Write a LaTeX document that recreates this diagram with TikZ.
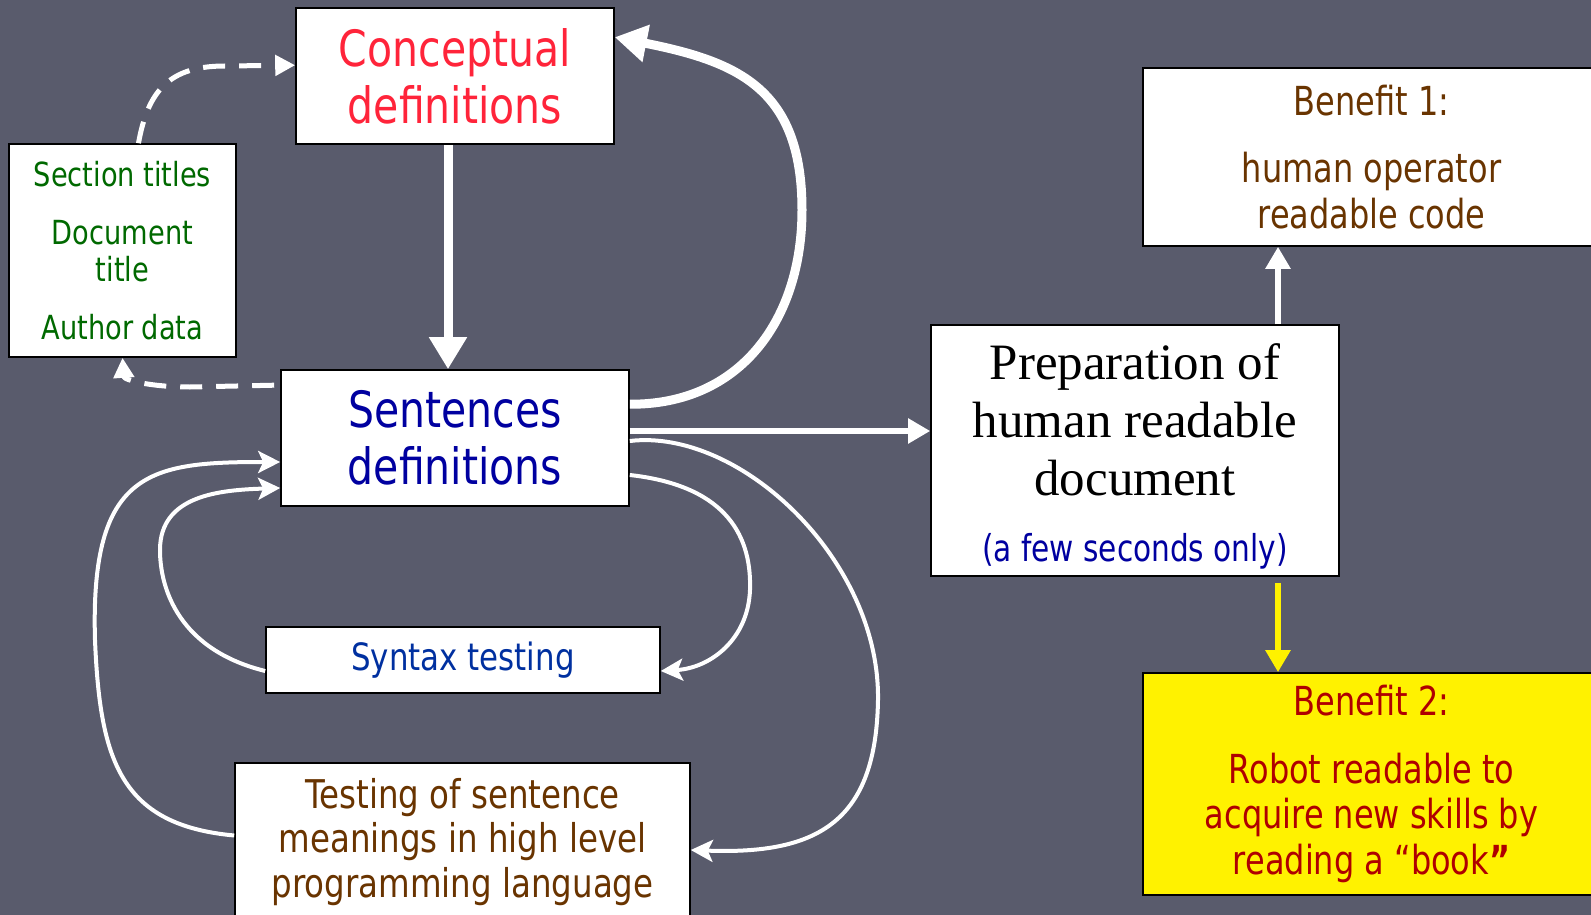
\documentclass[tikz,border=0pt]{standalone}
\usepackage{fontspec}
\setmainfont{DejaVu Sans}
\newfontfamily\tahfont[FakeStretch=0.82]{DejaVu Sans}
\newfontfamily\verfont[FakeStretch=0.8]{DejaVu Sans}
\newfontfamily\serfont{Liberation Serif}
\usetikzlibrary{arrows.meta}
\definecolor{slide}{RGB}{89,91,108}
\definecolor{conred}{RGB}{255,36,58}
\definecolor{sennavy}{RGB}{0,0,160}
\definecolor{titgreen}{RGB}{0,105,0}
\definecolor{synblue}{RGB}{0,48,160}
\definecolor{tesbrown}{RGB}{105,52,0}
\definecolor{benred}{RGB}{175,0,0}
\tikzset{
  box/.style={draw=black,line width=0.8pt,fill=white,inner sep=0pt,align=center},
  bigarrow/.style={draw=white,line width=4.5pt,-{Triangle[length=16pt,width=18pt]}},
  medarrow/.style={draw=white,line width=2.6pt,-{Triangle[length=11pt,width=12pt]}},
  looparrow/.style={draw=white,line width=2pt,-{Stealth[length=11pt,width=11pt,inset=2.5pt]}},
  dasharrow/.style={draw=white,line width=2.5pt,dash pattern=on 11pt off 7pt,-{Triangle[length=10pt,width=10pt]}}
}
\begin{document}
\begin{tikzpicture}[x=0.5pt,y=-0.5pt]
\useasboundingbox (0,0) rectangle (1591,915);
\fill[slide] (0,0) rectangle (1591,915);
\clip (0,0) rectangle (1591,915);
% boxes
\node[box,minimum width=159pt,minimum height=68pt,text=conred,font={\tahfont\fontsize{25}{28.5}\selectfont}] (concept) at (455,76) {Conceptual\\definitions};
\node[box,minimum width=113.5pt,minimum height=106.5pt,text=titgreen,font={\tahfont\fontsize{16.6}{18.8}\selectfont}] (titles) at (122.5,250.5) {Section titles\\[10pt]Document\\title\\[10pt]Author data};
\node[box,minimum width=174pt,minimum height=68pt,text=sennavy,font={\tahfont\fontsize{25}{28.5}\selectfont}] (sent) at (455,438) {Sentences\\definitions};
\node[box,minimum width=197pt,minimum height=33pt,text=synblue,font={\tahfont\fontsize{18.8}{21}\selectfont}] (syntax) at (463,660) {Syntax testing};
\node[box,minimum width=227.5pt,minimum height=79pt,text=tesbrown,font={\tahfont\fontsize{19.8}{22.3}\selectfont}] (testing) at (462.5,842) {Testing of sentence\\meanings in high level\\programming language};
\node[box,minimum width=204pt,minimum height=125.5pt,font={\serfont\fontsize{25.5}{29}\selectfont}] (prep) at (1135,450.5) {\rule{0pt}{23.5pt}Preparation of\\human readable\\document\\[4pt]{\verfont\fontsize{18.5}{22}\selectfont\color{sennavy}(a few seconds only)}};
\node[box,minimum width=228.5pt,minimum height=89pt,text=tesbrown,font={\verfont\fontsize{20}{22.8}\selectfont}] (ben1) at (1371.5,157) {Benefit 1:\\[11pt]human operator\\readable code};
\node[box,fill=yellow,minimum width=228.5pt,minimum height=111pt,text=benred,font={\verfont\fontsize{20}{22.8}\selectfont}] (ben2) at (1371.5,784) {Benefit 2:\\[11pt]Robot readable to\\acquire new skills by\\reading a “book\textbf{”}};
% connectors
\draw[bigarrow] ([xshift=-3.5pt]concept.south) -- ([xshift=-3.5pt]sent.north);
\draw[bigarrow] ([yshift=-17.5pt]sent.north east) .. controls (740,405) and (802,320) .. (802,210) .. controls (802,90) and (740,62) .. ([yshift=-15pt]concept.north east);
\draw[dasharrow] ([xshift=8pt]titles.north) .. controls (148,90) and (170,66) .. (225,66) -- ([yshift=-29pt]concept.north west);
\draw[dasharrow] ([xshift=-3pt,yshift=-8pt]sent.north west) -- (190,387) .. controls (150,387) and (124,380) .. (titles.south);
\draw[medarrow] ([yshift=3.5pt]sent.east) -- ([yshift=3.5pt]sent.east -| prep.west);
\draw[looparrow] ([yshift=-1.5pt]sent.east) .. controls (740,428) and (880,560) .. (878,700) .. controls (876,820) and (820,855) .. ([yshift=-4pt]testing.east);
\draw[looparrow] ([yshift=-18.5pt]sent.east) .. controls (720,485) and (752,530) .. (750,590) .. controls (748,640) and (710,668) .. ([yshift=-5.5pt]syntax.east);
\draw[looparrow] ([yshift=-5.5pt]syntax.west) .. controls (180,650) and (160,590) .. (160,550) .. controls (160,495) and (220,490) .. ([yshift=-25pt]sent.west);
\draw[looparrow] ([yshift=3.25pt]testing.west) .. controls (120,825) and (100,760) .. (95,640) .. controls (90,470) and (150,462) .. ([yshift=-12pt]sent.west);
\draw[medarrow,line width=3pt] ([xshift=71.5pt]prep.north) -- ([xshift=71.5pt]prep.north |- ben1.south);
\draw[medarrow,draw=yellow,line width=3pt] ([xshift=71.5pt,yshift=-3pt]prep.south) -- ([xshift=71.5pt]prep.north |- ben2.north);
\end{tikzpicture}
\end{document}
